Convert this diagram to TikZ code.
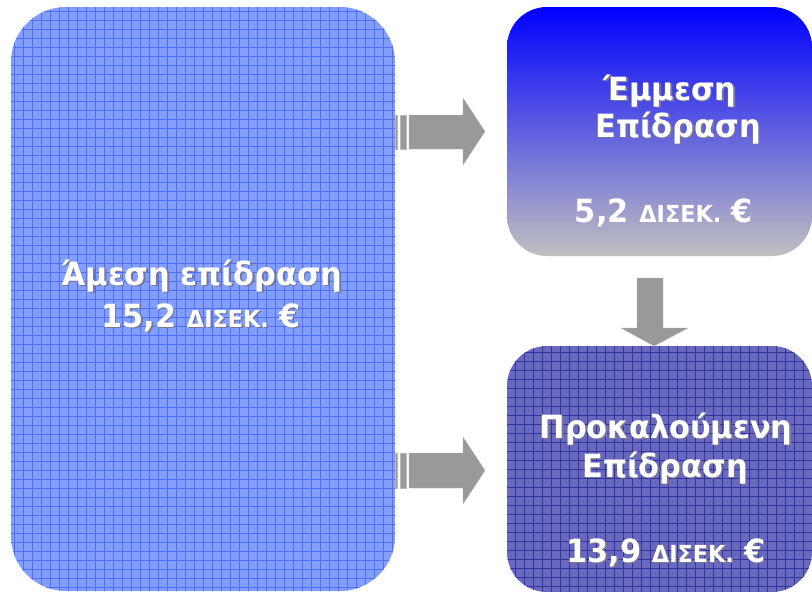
\documentclass[tikz,border=0pt]{standalone}
\usepackage{fontspec}
\newfontfamily\vf[FakeStretch=0.95]{DejaVu Sans}
\definecolor{lbase}{RGB}{130,158,255}
\definecolor{lgrid}{RGB}{80,110,250}
\definecolor{lfine}{RGB}{160,182,255}
\definecolor{dbase}{RGB}{104,104,190}
\definecolor{dgrid}{RGB}{52,52,158}
\definecolor{dfine}{RGB}{140,140,206}
\definecolor{topblue}{RGB}{0,0,255}
\definecolor{midlav}{RGB}{135,135,226}
\definecolor{botgray}{RGB}{192,192,192}
\definecolor{arrowgray}{RGB}{153,153,153}
\definecolor{shadowgray}{RGB}{120,120,140}
\tikzset{
  box/.style={inner sep=0pt, outer sep=0pt},
  pattbox/.style n args={3}{box, fill=#1, path picture={
      \draw[#3, line width=0.5pt, shift={(4.5pt,4.5pt)}] ([shift={(-9pt,-9pt)}]path picture bounding box.south west)
        grid[step=9pt] ([shift={(9pt,9pt)}]path picture bounding box.north east);
      \draw[#2, line width=0.8pt] ([shift={(-9pt,-9pt)}]path picture bounding box.south west)
        grid[step=9pt] ([shift={(9pt,9pt)}]path picture bounding box.north east);}},
  txt/.style={text=white, anchor=base, inner sep=0pt, font=\vf\bfseries\fontsize{32}{32}\selectfont},
  shd/.style={text=shadowgray, anchor=base, inner sep=0pt, font=\vf\bfseries\fontsize{32}{32}\selectfont},
  blockarrow/.style={fill=arrowgray, draw=arrowgray!70!white, line width=0.4pt},
}
\newcommand{\sm}[1]{{\fontsize{23.5}{23.5}\selectfont #1}}
\begin{document}
\begin{tikzpicture}[x=1pt,y=-1pt]
\useasboundingbox (0,0) rectangle (812,592);
% boxes
\node[pattbox={lbase}{lgrid}{lfine}, rounded corners=55pt, minimum width=384pt, minimum height=584pt] (direct) at (203,299) {};
\node[box, rounded corners=40pt, minimum width=305pt, minimum height=249pt,
      top color=topblue, middle color=midlav, bottom color=botgray] (indirect) at (659.5,131.5) {};
\node[pattbox={dbase}{dgrid}{dfine}, rounded corners=40pt, minimum width=305pt, minimum height=246pt] (induced) at (659.5,469) {};
% arrows
\draw[blockarrow] (395,115) rectangle (397.5,149);
\draw[blockarrow] (400,115) rectangle (406,149);
\draw[blockarrow] (409,115) -- (463,115) -- (463,98) -- (485,131.5) -- (463,165) -- (463,149) -- (409,149) -- cycle;
\draw[blockarrow] (395,453) rectangle (397.5,488);
\draw[blockarrow] (400,453) rectangle (406,488);
\draw[blockarrow] (409,453) -- (463,453) -- (463,437) -- (485,470.5) -- (463,504) -- (463,488) -- (409,488) -- cycle;
\draw[blockarrow] (637,278) -- (663,278) -- (663,328) -- (688,328) -- (654,346) -- (621,328) -- (637,328) -- cycle;
% texts: direct
\node[shd] (d1s) at (203.5,286.5) {Άμεση επίδραση};
\node[txt] (d1) at (202,285) {Άμεση επίδραση};
\node[shd] (d2s) at (202.5,328.5) {15,2 \sm{ΔΙΣΕΚ.} €};
\node[txt] (d2) at (201,327) {15,2 \sm{ΔΙΣΕΚ.} €};
% texts: indirect
\node[shd] (i1s) at (671.5,101.5) {Έμμεση};
\node[txt] (i1) at (670,100) {Έμμεση};
\node[shd] (i2s) at (679.5,138.5) {Επίδραση};
\node[txt] (i2) at (678,137) {Επίδραση};
\node[txt] (i3) at (664,222) {5,2 \sm{ΔΙΣΕΚ.} €};
% texts: induced
\node[shd] (n1s) at (667.5,439.5) {Προκαλούμενη};
\node[txt] (n1) at (666,438) {Προκαλούμενη};
\node[shd] (n2s) at (666.5,478.5) {Επίδραση};
\node[txt] (n2) at (665,477) {Επίδραση};
\node[shd] (n3s) at (667.5,563.5) {13,9 \sm{ΔΙΣΕΚ.} €};
\node[txt] (n3) at (666,562) {13,9 \sm{ΔΙΣΕΚ.} €};
\end{tikzpicture}
\end{document}
